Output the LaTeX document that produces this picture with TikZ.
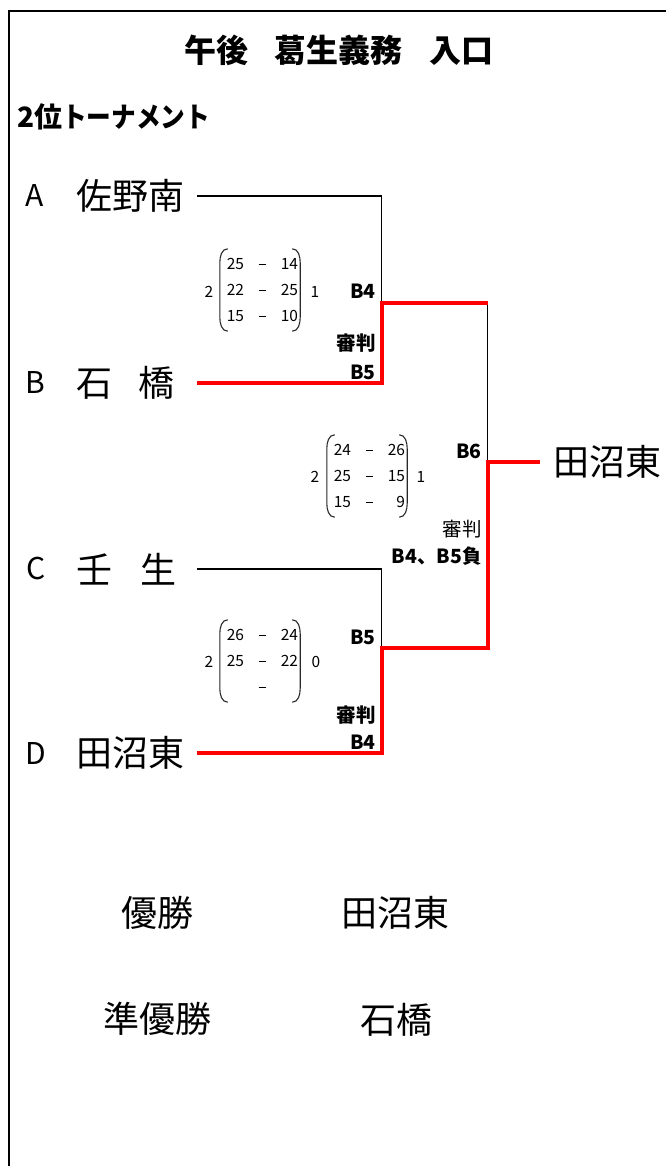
\documentclass[tikz,border=0pt]{standalone}
\usepackage{fontspec}
\setmainfont{Noto Sans CJK JP}
\usepackage{array}
\usepackage{graphicx}
\usetikzlibrary{calc}
\definecolor{winred}{RGB}{255, 0, 0}
\definecolor{parengray}{RGB}{40, 40, 40}

% round brackets around a score node
\newcommand{\scoreparens}[1]{%
  \draw[paren] ([xshift=8pt]#1.north west) to[out=180, in=90] ([yshift=-14pt]#1.north west)
    -- ([yshift=14pt]#1.south west) to[out=-90, in=180] ([xshift=8pt]#1.south west);
  \draw[paren] ([xshift=-8pt]#1.north east) to[out=0, in=90] ([yshift=-14pt]#1.north east)
    -- ([yshift=14pt]#1.south east) to[out=-90, in=0] ([xshift=-8pt]#1.south east);
}
\newcommand{\sdash}{\raisebox{4.5pt}{\rule{7pt}{0.9pt}}}

\begin{document}
\begin{tikzpicture}[x=1pt, y=-1pt,
  seed/.style={font=\fontsize{30}{32}\selectfont, inner sep=0},
  team/.style={font=\fontsize{36}{40}\selectfont, anchor=west, inner sep=0, text width=121pt, align=left},
  result/.style={font=\fontsize{36}{40}\selectfont, inner sep=0},
  game/.style={font=\bfseries\fontsize{19.5}{21}\selectfont, anchor=east, inner sep=0},
  score/.style={font=\fontsize{15.5}{26}\selectfont, inner sep=0, minimum width=80pt, minimum height=82pt},
  sets/.style={font=\fontsize{15.5}{17}\selectfont, inner sep=0},
  paren/.style={draw=parengray, line width=1.1pt},
  thinline/.style={line width=1.6pt},
  winline/.style={draw=winred, line width=4pt}]
  \useasboundingbox (0,0) rectangle (666,1166);

  % Frame
  \draw[line width=2pt] (666,11) -- (9,11) -- (9,1166);

  % Heading
  \node[font=\bfseries\fontsize{32}{34}\selectfont, inner sep=0] (title) at (339,50) {午後\hspace{27pt}葛生義務\hspace{27pt}入口};
  \node[font=\bfseries\fontsize{28}{30}\selectfont, anchor=west, inner sep=0] (sub) at (17,117) {2位\scalebox{0.88}[1]{トーナメント}};

  % Teams
  \node[seed] (seedA) at (35,196) {A};
  \node[team] (teamA) at (76,196) {佐野南};
  \node[seed] (seedB) at (35,383) {B};
  \node[team] (teamB) at (76,383) {石\hspace{26pt}橋};
  \node[seed] (seedC) at (36,568) {C};
  \node[team] (teamC) at (76,569) {壬\hspace{28pt}生};
  \node[seed] (seedD) at (36,753) {D};
  \node[team] (teamD) at (76,753) {田沼東};
  \node[result, anchor=west] (champ) at (553,462) {田沼東};

  % Joints
  \coordinate (j1) at (381.5,303);
  \coordinate (j2) at (381.5,648);
  \coordinate (jf) at (487.5,462);

  % Bracket lines
  \draw[thinline] (teamA.east) -| (j1);
  \draw[thinline] (teamC.east) -| (j2);
  \draw[thinline] (j1 -| jf) -- (jf);
  \draw[winline] (teamB.east) -| (j1) -- (j1 -| jf);
  \draw[winline] (teamD.east) -| (j2) -- (j2 -| jf) -- (jf) -- ([xshift=-13pt]champ.west);

  % Game B4
  \node[game] (g1) at (376,291) {B4};
  \node[game] (g1ref) at (376,343) {審判};
  \node[game] (g1refc) at (376,372) {B5};
  \node[score] (s1) at (260,290) {\begin{tabular}{@{\hspace{6pt}}w{r}{18pt}@{}w{c}{36pt}@{}w{r}{18pt}@{\hspace{2pt}}}
    25 & \sdash & 14 \\ 22 & \sdash & 25 \\ 15 & \sdash & 10
  \end{tabular}};
  \scoreparens{s1}
  \node[sets] (s1l) at (209,292) {2};
  \node[sets] (s1r) at (315,292) {1};

  % Game B6
  \node[game] (g2) at (482,451) {B6};
  \node[game, font=\fontsize{19.5}{21}\selectfont] (g2ref) at (482,529) {審判};
  \node[game] (g2refc) at (482,556) {B4、B5負};
  \node[score] (s2) at (367,476) {\begin{tabular}{@{\hspace{6pt}}w{r}{18pt}@{}w{c}{36pt}@{}w{r}{18pt}@{\hspace{2pt}}}
    24 & \sdash & 26 \\ 25 & \sdash & 15 \\ 15 & \sdash & 9
  \end{tabular}};
  \scoreparens{s2}
  \node[sets] (s2l) at (315,477) {2};
  \node[sets] (s2r) at (421,477) {1};

  % Game B5
  \node[game] (g3) at (376,637) {B5};
  \node[game] (g3ref) at (376,715) {審判};
  \node[game] (g3refc) at (376,742) {B4};
  \node[score] (s3) at (260,661) {\begin{tabular}{@{\hspace{6pt}}w{r}{18pt}@{}w{c}{36pt}@{}w{r}{18pt}@{\hspace{2pt}}}
    26 & \sdash & 24 \\ 25 & \sdash & 22 \\ & \sdash &
  \end{tabular}};
  \scoreparens{s3}
  \node[sets] (s3l) at (209,662) {2};
  \node[sets] (s3r) at (316,662) {0};

  % Results
  \node[result] (firstlbl) at (157,913) {優勝};
  \node[result] (first) at (395,913) {田沼東};
  \node[result] (secondlbl) at (157,1019) {準優勝};
  \node[result] (second) at (396,1020) {石橋};
\end{tikzpicture}
\end{document}
